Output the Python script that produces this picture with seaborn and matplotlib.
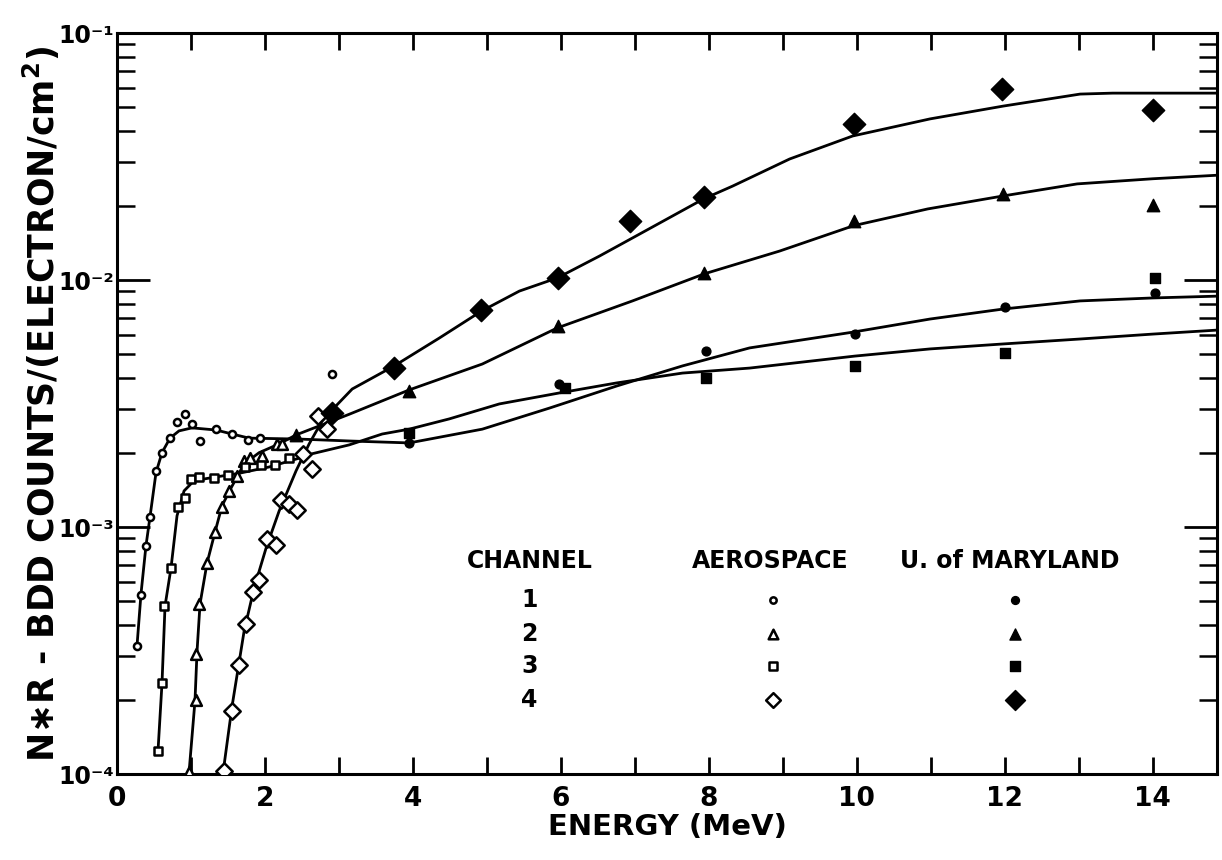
import numpy as np
import pandas as pd
import matplotlib
matplotlib.use("Agg")
import matplotlib.pyplot as plt
from matplotlib.ticker import LogLocator, NullFormatter
import seaborn as sns

# ---------------- measured points: Aerospace calibration (open symbols) ----------------
aero_ch1_e = [0.275, 0.329, 0.388, 0.442, 0.532, 0.605, 0.713, 0.816, 0.920, 1.011,
              1.119, 1.336, 1.560, 1.773, 1.935, 2.913]
aero_ch1_r = [3.30e-4, 5.33e-4, 8.37e-4, 1.10e-3, 1.69e-3, 2.00e-3, 2.30e-3, 2.65e-3,
              2.86e-3, 2.62e-3, 2.23e-3, 2.49e-3, 2.39e-3, 2.26e-3, 2.29e-3, 4.15e-3]

aero_ch2_e = [0.974, 1.065, 1.073, 1.110, 1.218, 1.326, 1.414, 1.516, 1.624, 1.719,
              1.800, 1.962, 2.165, 2.233]
aero_ch2_r = [1.02e-4, 2.00e-4, 3.05e-4, 4.87e-4, 7.15e-4, 9.55e-4, 1.21e-3, 1.40e-3,
              1.61e-3, 1.85e-3, 1.90e-3, 1.94e-3, 2.17e-3, 2.17e-3]

aero_ch3_e = [0.559, 0.605, 0.636, 0.727, 0.830, 0.920, 0.997, 1.110, 1.313, 1.502,
              1.732, 1.945, 2.138, 2.327]
aero_ch3_r = [1.24e-4, 2.34e-4, 4.79e-4, 6.84e-4, 1.20e-3, 1.31e-3, 1.56e-3, 1.59e-3,
              1.58e-3, 1.62e-3, 1.75e-3, 1.78e-3, 1.78e-3, 1.90e-3]

aero_ch4_e = [1.448, 1.549, 1.647, 1.742, 1.834, 1.925, 2.034, 2.149, 2.219, 2.332,
              2.432, 2.513, 2.639, 2.717, 2.842]
aero_ch4_r = [1.03e-4, 1.80e-4, 2.75e-4, 4.04e-4, 5.45e-4, 6.09e-4, 8.91e-4, 8.48e-4,
              1.29e-3, 1.24e-3, 1.17e-3, 1.98e-3, 1.71e-3, 2.81e-3, 2.49e-3]

# ---------------- measured points: U. of Maryland calibration (filled symbols) ----------------
umd_ch1_e = [3.95, 5.98, 7.96, 9.97, 12.01, 14.03]
umd_ch1_r = [2.19e-3, 3.78e-3, 5.16e-3, 6.03e-3, 7.79e-3, 8.89e-3]

umd_ch2_e = [2.42, 3.95, 5.96, 7.94, 9.96, 11.98, 14.00]
umd_ch2_r = [2.35e-3, 3.55e-3, 6.51e-3, 1.07e-2, 1.73e-2, 2.22e-2, 2.02e-2]

umd_ch3_e = [3.95, 6.05, 7.96, 9.97, 12.01, 14.03]
umd_ch3_r = [2.41e-3, 3.66e-3, 4.03e-3, 4.49e-3, 5.08e-3, 1.02e-2]

umd_ch4_e = [2.91, 3.75, 4.92, 5.96, 6.94, 7.93, 9.96, 11.97, 14.01]
umd_ch4_r = [2.90e-3, 4.42e-3, 7.54e-3, 1.02e-2, 1.74e-2, 2.16e-2, 4.29e-2, 5.92e-2, 4.88e-2]

# ---------------- hand-drawn response curves ----------------
fit_ch1_e = [0.271, 0.325, 0.392, 0.447, 0.528, 0.609, 0.717, 0.839, 1.015, 1.340,
             1.556, 1.786, 2.463, 3.139, 3.951, 4.939, 5.846, 6.752, 7.645, 8.552,
             9.946, 10.99, 11.98, 13.02, 14.00, 14.91]
fit_ch1_r = [3.30e-4, 5.36e-4, 8.38e-4, 1.10e-3, 1.66e-3, 2.00e-3, 2.29e-3, 2.45e-3,
             2.52e-3, 2.47e-3, 2.38e-3, 2.29e-3, 2.27e-3, 2.23e-3, 2.19e-3, 2.49e-3,
             3.03e-3, 3.72e-3, 4.49e-3, 5.31e-3, 6.15e-3, 6.95e-3, 7.63e-3, 8.23e-3,
             8.46e-3, 8.61e-3]

fit_ch2_e = [0.974, 1.055, 1.083, 1.123, 1.218, 1.326, 1.421, 1.543, 1.719, 1.922,
             2.192, 2.422, 3.139, 3.951, 4.939, 5.954, 6.969, 7.943, 8.958, 9.959,
             10.96, 11.98, 12.98, 14.00, 14.91]
fit_ch2_r = [1.01e-4, 1.98e-4, 3.15e-4, 4.88e-4, 7.15e-4, 9.55e-4, 1.22e-3, 1.44e-3,
             1.80e-3, 2.00e-3, 2.17e-3, 2.36e-3, 2.86e-3, 3.59e-3, 4.57e-3, 6.40e-3,
             8.23e-3, 1.06e-2, 1.31e-2, 1.66e-2, 1.94e-2, 2.19e-2, 2.45e-2, 2.57e-2,
             2.66e-2]

fit_ch3_e = [0.555, 0.609, 0.650, 0.731, 0.812, 0.907, 1.042, 1.313, 1.651, 2.057,
             2.463, 2.639, 3.139, 3.586, 3.951, 4.493, 5.169, 5.981, 6.752, 7.645,
             8.552, 9.973, 10.99, 11.98, 13.02, 14.00, 14.91]
fit_ch3_r = [1.24e-4, 2.33e-4, 4.79e-4, 6.83e-4, 1.11e-3, 1.40e-3, 1.54e-3, 1.59e-3,
             1.65e-3, 1.75e-3, 1.90e-3, 1.98e-3, 2.15e-3, 2.38e-3, 2.49e-3, 2.74e-3,
             3.15e-3, 3.49e-3, 3.83e-3, 4.20e-3, 4.40e-3, 4.92e-3, 5.26e-3, 5.51e-3,
             5.77e-3, 6.04e-3, 6.28e-3]

fit_ch4_e = [1.434, 1.556, 1.719, 1.854, 2.016, 2.192, 2.422, 2.598, 2.774, 2.923,
             3.180, 3.748, 4.357, 4.926, 5.440, 5.954, 6.522, 6.969, 7.930, 8.322,
             9.093, 9.946, 10.99, 11.98, 13.02, 13.46, 14.91]
fit_ch4_r = [1.01e-4, 1.88e-4, 3.79e-4, 5.66e-4, 8.22e-4, 1.16e-3, 1.69e-3, 2.17e-3,
             2.69e-3, 3.01e-3, 3.62e-3, 4.49e-3, 5.82e-3, 7.48e-3, 9.02e-3, 1.02e-2,
             1.25e-2, 1.48e-2, 2.13e-2, 2.40e-2, 3.09e-2, 3.83e-2, 4.49e-2, 5.06e-2,
             5.66e-2, 5.71e-2, 5.71e-2]

channels = ["1", "2", "3", "4"]
x_ticks = [0, 2, 4, 6, 8, 10, 12, 14]
y_ticks = [1e-4, 1e-3, 1e-2, 1e-1]
y_tick_labels = ["10\u207b\u2074", "10\u207b\u00b3", "10\u207b\u00b2", "10\u207b\u00b9"]

aero = [(aero_ch1_e, aero_ch1_r), (aero_ch2_e, aero_ch2_r),
        (aero_ch3_e, aero_ch3_r), (aero_ch4_e, aero_ch4_r)]
umd = [(umd_ch1_e, umd_ch1_r), (umd_ch2_e, umd_ch2_r),
       (umd_ch3_e, umd_ch3_r), (umd_ch4_e, umd_ch4_r)]
fits = [(fit_ch1_e, fit_ch1_r), (fit_ch2_e, fit_ch2_r),
        (fit_ch3_e, fit_ch3_r), (fit_ch4_e, fit_ch4_r)]

# symbol per channel: (marker, size of open symbol, size of filled symbol)
symbols = [("o", 26, 40), ("^", 60, 80), ("s", 40, 55), ("D", 70, 130)]

fit_df = pd.concat([pd.DataFrame({"energy": e, "response": r, "channel": c})
                    for (e, r), c in zip(fits, channels)], ignore_index=True)

sns.set_theme(style="ticks")
plt.rcParams["font.family"] = ["DejaVu Sans"]
plt.rcParams["font.weight"] = "bold"
plt.rcParams["axes.labelweight"] = "bold"
plt.rcParams["mathtext.default"] = "bf"

fig = plt.figure(figsize=(12.22, 8.60), dpi=100)
ax = fig.add_axes([0.0957, 0.100, 0.9002, 0.8616])
ax.set_yscale("log")

sns.lineplot(data=fit_df, x="energy", y="response", units="channel", estimator=None,
             sort=False, color="black", linewidth=2.0, ax=ax, legend=False)

for (e, r), (mk, s_open, s_fill) in zip(aero, symbols):
    sns.scatterplot(x=e, y=r, marker=mk, s=s_open, facecolor="white",
                    edgecolor="black", linewidth=1.8, ax=ax, zorder=4, legend=False)
for (e, r), (mk, s_open, s_fill) in zip(umd, symbols):
    sns.scatterplot(x=e, y=r, marker=mk, s=s_fill, color="black",
                    edgecolor="black", linewidth=1.0, ax=ax, zorder=4, legend=False)

ax.set_xlim(0, 14.87)
ax.set_ylim(1e-4, 1e-1)
ax.set_xticks(x_ticks)
ax.set_xticklabels([str(t) for t in x_ticks])
ax.set_xticks([t + 1 for t in x_ticks[:-1]], minor=True)
ax.set_yticks(y_ticks)
ax.set_yticklabels(y_tick_labels)
ax.yaxis.set_minor_locator(LogLocator(base=10, subs=np.arange(2, 10)))
ax.yaxis.set_minor_formatter(NullFormatter())

for side in ax.spines.values():
    side.set_linewidth(2.2)
    side.set_color("black")

ax.tick_params(axis="x", which="both", direction="in", length=12, width=2,
               top=True, bottom=True, labelsize=19, pad=9, colors="black")
ax.tick_params(axis="y", which="major", direction="in", length=24, width=2,
               left=True, right=True, labelsize=17, pad=2, colors="black")
ax.tick_params(axis="y", which="minor", direction="in", length=13, width=1.8,
               left=True, right=True, colors="black")

ax.set_xlabel("ENERGY (MeV)", fontsize=21, labelpad=0, color="black")
ax.set_ylabel("N\u2217R - BDD COUNTS/(ELECTRON/cm$^{2}$)", fontsize=25,
              color="black")
ax.yaxis.set_label_coords(-0.050, 0.5)

# key table drawn inside the axes
header_y = 0.287
row_y = [0.235, 0.189, 0.146, 0.100]
col_chan, col_aero, col_umd = 0.375, 0.596, 0.816
txt = dict(transform=ax.transAxes, ha="center", va="center", fontsize=17, color="black")
ax.text(col_chan, header_y, "CHANNEL", **txt)
ax.text(col_aero - 0.002, header_y, "AEROSPACE", **txt)
ax.text(col_umd - 0.004, header_y, "U. of MARYLAND", **txt)
for yy, ch, (mk, s_open, s_fill) in zip(row_y, channels, symbols):
    ax.text(col_chan, yy, ch, **txt)
    ax.scatter([col_aero], [yy], transform=ax.transAxes, marker=mk, s=s_open * 0.8,
               facecolor="white", edgecolor="black", linewidth=1.8, zorder=5, clip_on=False)
    ax.scatter([col_umd], [yy], transform=ax.transAxes, marker=mk, s=s_fill * 0.8,
               color="black", zorder=5, clip_on=False)

fig.savefig("out.png", dpi=100, facecolor="white")
